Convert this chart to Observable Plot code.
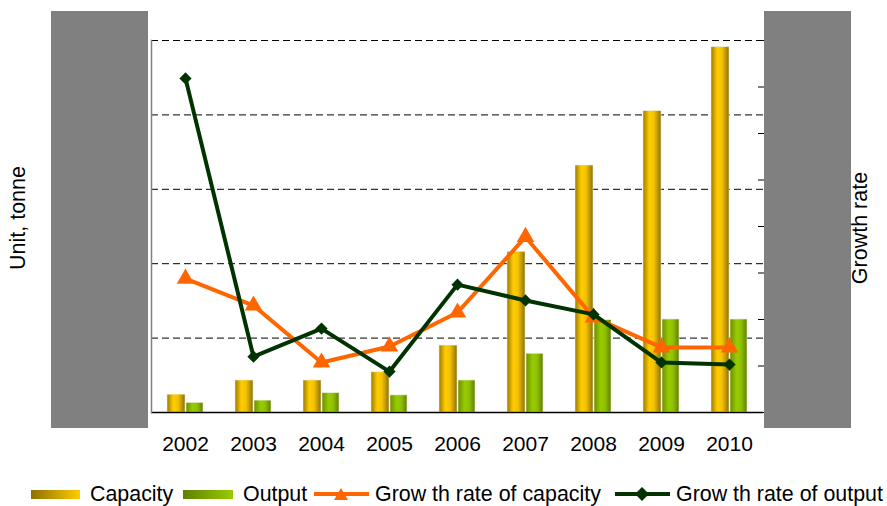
<!DOCTYPE html>
<html><head><meta charset="utf-8">
<script src="https://cdn.jsdelivr.net/npm/d3@7"></script>
<script src="https://cdn.jsdelivr.net/npm/@observablehq/plot@0.6"></script>
<style>
body{margin:0;background:#fff;font-family:"Liberation Sans",Arial,sans-serif;}
#wrap{position:relative;width:887px;height:506px;overflow:hidden;background:#fff}
#wrap svg{position:absolute;left:0;top:0}
.box{position:absolute;background:#808080}
.lab{position:absolute;font-size:21.5px;line-height:22px;white-space:nowrap;color:#000}
.leg{position:absolute;font-size:21.4px;line-height:22px;white-space:nowrap;color:#000}
.sw{position:absolute;height:9px}
.ln{position:absolute;height:4px}
</style></head><body><div id="wrap"></div>
<script>
// Data. Left axis: tonnes (labels hidden in source), right axis: growth rate in % (labels hidden)
const years = ["2002","2003","2004","2005","2006","2007","2008","2009","2010"];
const capacity = [24, 43, 43, 54, 90, 216, 332, 405, 491];
const output = [13, 16, 26, 23, 43, 79, 124, 125, 125];
const capacityGrowth = [57.6, 46, 21.5, 28.4, 43, 75.5, 40.9, 28, 28];
const outputGrowth = [143.7, 24, 36.1, 17.6, 55, 48.2, 42.2, 21.5, 20.6];
const leftTicks = [0, 100, 200, 300, 400, 500];
const rightTicks = [0, 20, 40, 60, 80, 100, 120, 140, 160];
const seriesNames = ["Capacity", "Output", "Grow th rate of capacity", "Grow th rate of output"];

const k = leftTicks[leftTicks.length - 1] / rightTicks[rightTicks.length - 1];
const table = years.map((year, i) => ({
  year, capacity: capacity[i], output: output[i],
  capG: capacityGrowth[i], outG: outputGrowth[i]
}));

const chart = Plot.plot({
  width: 887, height: 506,
  marginLeft: 151, marginRight: 124, marginTop: 40, marginBottom: 94,
  style: {fontFamily: "'Liberation Sans', Arial, sans-serif", fontSize: "21px", background: "transparent", color: "#000"},
  x: {type: "band", domain: years, padding: 0, axis: null},
  y: {domain: [0, 500], axis: null},
  marks: [
    Plot.gridY(leftTicks.slice(1), {stroke: "#000", strokeOpacity: 1, strokeDasharray: "7,4"}),
    Plot.barY(table, {x: "year", y: "capacity", fill: "url(#gCap)", insetLeft: 16, insetRight: 34, stroke: "#f0eedc", strokeWidth: 0.6}),
    Plot.barY(table, {x: "year", y: "output", fill: "url(#gOut)", insetLeft: 35, insetRight: 16, stroke: "#f0eedc", strokeWidth: 0.6}),
    Plot.ruleY([0], {stroke: "#000", strokeWidth: 1.5}),
    Plot.frame({anchor: "left", stroke: "#808080", strokeWidth: 1.5}),
    Plot.axisY(rightTicks.map(v => v * k), {anchor: "right", tickSize: 6, dx: -6, fill: "none", stroke: "#000", label: null}),
    Plot.axisX({tickSize: 0, tickPadding: 24, label: null, fontSize: 21}),
    Plot.line(table, {x: "year", y: d => d.capG * k, stroke: "#ff6600", strokeWidth: 4}),
    Plot.dot(table, {x: "year", y: d => d.capG * k, symbol: "triangle", r: 6.5, fill: "#ff6600"}),
    Plot.line(table, {x: "year", y: d => d.outG * k, stroke: "#003300", strokeWidth: 4}),
    Plot.dot(table, {x: "year", y: d => d.outG * k, symbol: "diamond2", r: 5.5, fill: "#003300"})
  ]
});

const defs = d3.select(chart).insert("defs", ":first-child");
function grad(id, stops) {
  const g = defs.append("linearGradient").attr("id", id).attr("x1", 0).attr("x2", 1).attr("y1", 0).attr("y2", 0);
  stops.forEach(([o, c]) => g.append("stop").attr("offset", o).attr("stop-color", c));
}
grad("gCap", [[0, "#9c7a00"], [0.35, "#ffcc00"], [0.6, "#f5c400"], [1, "#8f7000"]]);
grad("gOut", [[0, "#6b8f00"], [0.4, "#99cc00"], [0.65, "#90c000"], [1, "#5f8000"]]);

const wrap = document.getElementById("wrap");
wrap.appendChild(chart);

function add(html) { wrap.insertAdjacentHTML("beforeend", html); }
// Redaction boxes over axis tick labels
add('<div class="box" style="left:51px;top:11px;width:97px;height:417px"></div>');
add('<div class="box" style="left:764px;top:11px;width:87px;height:417px"></div>');
// Axis titles
add('<div class="lab" style="left:18px;top:218px;transform:translate(-50%,-50%) rotate(-90deg)">Unit, tonne</div>');
add('<div class="lab" style="left:860px;top:228px;transform:translate(-50%,-50%) rotate(-90deg)">Growth rate</div>');
// Legend
add('<div class="sw" style="left:31px;top:490px;width:49px;background:linear-gradient(to right,#8f7000,#ffcc00)"></div>');
add('<div class="leg" style="left:90px;top:483px">' + seriesNames[0] + '</div>');
add('<div class="sw" style="left:183px;top:490px;width:50px;background:linear-gradient(to right,#5f8000,#99cc00)"></div>');
add('<div class="leg" style="left:243px;top:483px">' + seriesNames[1] + '</div>');
add('<div class="ln" style="left:314px;top:492px;width:55px;background:#ff6600"></div>');
add('<svg width="16" height="16" style="position:absolute;left:333px;top:486px"><path d="M8,2L15,14L1,14Z" fill="#ff6600"/></svg>');
add('<div class="leg" style="left:375px;top:483px">' + seriesNames[2] + '</div>');
add('<div class="ln" style="left:615px;top:492px;width:55px;background:#003300"></div>');
add('<svg width="14" height="14" style="position:absolute;left:635px;top:487px"><path d="M7,0L14,7L7,14L0,7Z" fill="#003300"/></svg>');
add('<div class="leg" style="left:676px;top:483px">' + seriesNames[3] + '</div>');
</script>
</body></html>
